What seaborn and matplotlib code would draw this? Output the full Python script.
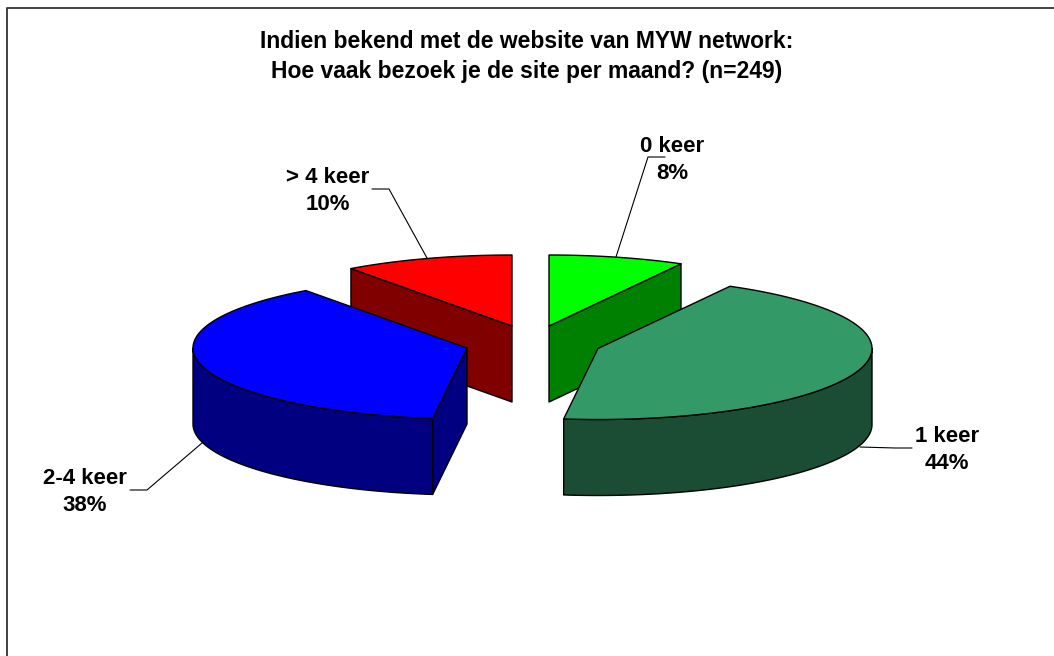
"""Exploded 3D-style pie chart: MYW network site visits per month."""

import matplotlib
matplotlib.use("Agg")
import matplotlib.pyplot as plt
import numpy as np
import seaborn as sns

labels = ["0 keer", "1 keer", "2-4 keer", "> 4 keer"]
shares = [8, 44, 38, 10]
top_colors = ["#00FF00", "#339966", "#0000FF", "#FF0000"]
side_colors = ["#008000", "#1A4D33", "#000080", "#800000"]
title = ("Indien bekend met de website van MYW network:\n"
         "Hoe vaak bezoek je de site per maand? (n=249)")

# Layout, in reference pixels
W, H = 1054, 656
RX, RY, DEPTH = 274, 71, 76
APEX = [(549, 326), (598, 348.5), (467, 348), (512, 326)]
DRAW_ORDER = [3, 0, 2, 1]  # back slices first
LEADERS = [
    [(616, 257), (648, 157), (665, 157)],
    [(860, 447), (895, 448), (912, 448)],
    [(202, 443), (147, 490), (130, 490)],
    [(427, 258), (389, 189), (372, 189)],
]
LABEL_POS = [(672, 160), (947, 450), (85, 492), (328, 191)]

sns.set_theme(style="white")
plt.rcParams["font.family"] = ["Liberation Sans", "DejaVu Sans"]


def rim(apex, a0, a1, n=200):
    """Points on the ellipse rim; angles clockwise from 12 o'clock, degrees."""
    t = np.radians(np.linspace(a0, a1, n))
    return apex[0] + RX * np.sin(t), apex[1] - RY * np.cos(t)


def draw_slice(ax, apex, a0, a1, top, side):
    style = dict(edgecolor="black", linewidth=1.0, joinstyle="round")
    # the cut face towards the viewer, if the slice has one
    cut = a1 if a1 < 90 else a0 if a0 > 180 else None
    if cut is not None:
        x, y = rim(apex, cut, cut, 1)
        ax.fill([apex[0], x[0], x[0], apex[0]],
                [apex[1], y[0], y[0] + DEPTH, apex[1] + DEPTH],
                facecolor=side, **style)
    # outer wall, only the front half of the ellipse shows
    lo, hi = max(a0, 90), min(a1, 270)
    if lo < hi:
        x, y = rim(apex, lo, hi)
        ax.fill(np.r_[x, x[::-1]], np.r_[y, y[::-1] + DEPTH],
                facecolor=side, **style)
    x, y = rim(apex, a0, a1)
    ax.fill(np.r_[apex[0], x], np.r_[apex[1], y], facecolor=top, **style)


fig = plt.figure(figsize=(W / 100, H / 100), dpi=100, facecolor="white")
ax = fig.add_axes([0, 0, 1, 1])
ax.set_xlim(0, W)
ax.set_ylim(H, 0)
ax.axis("off")

# chart frame: only the top and left edges fall inside the picture
ax.plot([7, 7, W], [H, 8, 8], color="#333333", lw=1.3)

edges = np.cumsum([0] + shares) / sum(shares) * 360
for i in DRAW_ORDER:
    draw_slice(ax, APEX[i], edges[i], edges[i + 1], top_colors[i], side_colors[i])

for i, name in enumerate(labels):
    px, py = zip(*LEADERS[i])
    ax.plot(px, py, color="black", lw=0.8)
    ax.text(LABEL_POS[i][0], LABEL_POS[i][1], f"{name}\n{shares[i]}%",
            ha="center", va="center", fontsize=16, fontweight="bold",
            color="black", linespacing=1.4)

ax.text(527, 56.5, title, ha="center", va="center", fontsize=16.5,
        fontweight="bold", color="black", linespacing=1.36)

fig.savefig("out.png", dpi=100)
